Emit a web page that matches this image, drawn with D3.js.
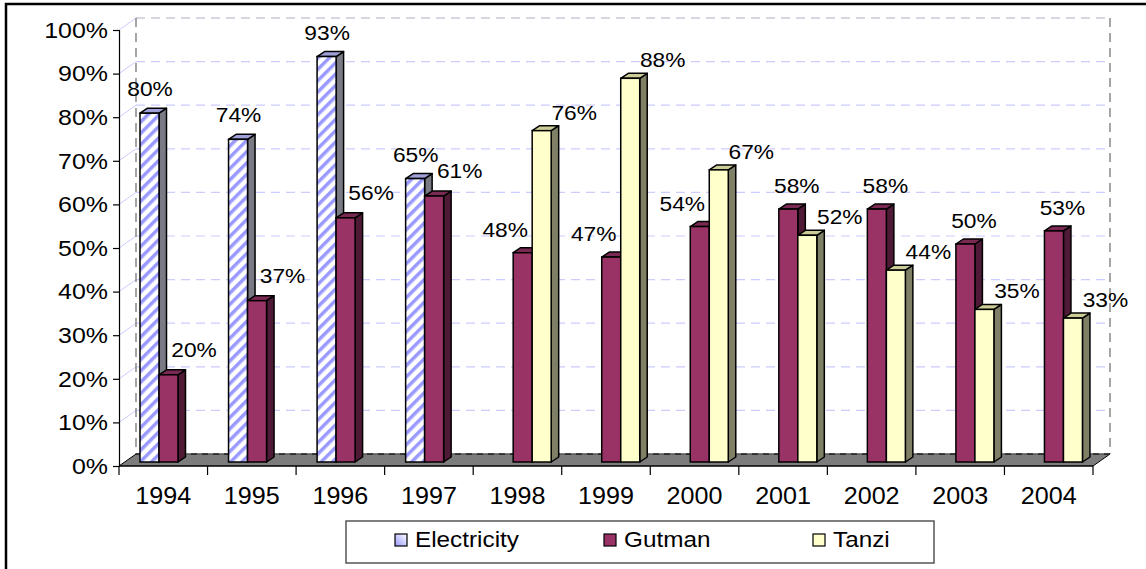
<!DOCTYPE html>
<html>
<head>
<meta charset="utf-8">
<script src="https://cdn.jsdelivr.net/npm/d3@7"></script>
<style>
  html, body { margin: 0; padding: 0; background: #fff; }
  svg { display: block; font-family: 'Liberation Sans', Arial, sans-serif; }
</style>
</head>
<body>
<svg id="chart" width="1146" height="569"></svg>
<script>
// ---- data ----
const years = ["1994","1995","1996","1997","1998","1999","2000","2001","2002","2003","2004"];
const seriesNames = ["Electricity","Gutman","Tanzi"];
const electricity = [0.80,0.74,0.93,0.65,null,null,null,null,null,null,null];
const gutman      = [0.20,0.37,0.56,0.61,0.48,0.47,0.54,0.58,0.58,0.50,0.53];
const tanzi       = [null,null,null,null,0.76,0.88,0.67,0.52,0.44,0.35,0.33];
const yTicks = [0,0.1,0.2,0.3,0.4,0.5,0.6,0.7,0.8,0.9,1.0];

const seriesValues = [electricity, gutman, tanzi];

// ---- layout ----
const svg = d3.select("#chart");
const SX = 1.11; // horizontal text stretch
const plotL = 119, plotR = 1093, plotB = 466, plotT = 30;
const depthX = 17, depthY = -12;       // wall depth
const barOX = 5, barOY = -4;           // bar plane offset
const barDX = 7.5, barDY = -5;         // bar depth

const x = d3.scaleBand().domain(years).range([plotL, plotR]).padding(0);
const xs = d3.scaleBand().domain(seriesNames).range([16, 73]).padding(0);
const y = d3.scaleLinear().domain([0, 1]).range([plotB, plotT]);

const colors = {
  Electricity: {front: "url(#stripes)", side: "#7a7a84", top: "#a0a0d8"},
  Gutman:      {front: "#993366", side: "#4f1a35", top: "#7a2a52"},
  Tanzi:       {front: "#ffffcc", side: "#808066", top: "#cccc99"}
};

// defs
const defs = svg.append("defs");
const pat = defs.append("pattern").attr("id", "stripes")
  .attr("patternUnits", "userSpaceOnUse").attr("width", 8).attr("height", 8)
  .attr("patternTransform", "rotate(45)");
pat.append("rect").attr("width", 8).attr("height", 8).attr("fill", "#ffffff");
pat.append("rect").attr("width", 3.5).attr("height", 8).attr("fill", "#9999ff");
const grad = defs.append("linearGradient").attr("id", "legendE")
  .attr("x1", "0").attr("y1", "1").attr("x2", "1").attr("y2", "0");
grad.append("stop").attr("offset", "0").attr("stop-color", "#9999ff");
grad.append("stop").attr("offset", "0.5").attr("stop-color", "#ccccff");
grad.append("stop").attr("offset", "1").attr("stop-color", "#ffffff");

// outer border
svg.append("rect").attr("x", 6).attr("y", 4).attr("width", 1160).attr("height", 600)
  .attr("fill", "none").attr("stroke", "#000").attr("stroke-width", 2.5);

// ---- walls & gridlines ----
const grid = svg.append("g");
const backL = plotL + depthX, backR = plotR + depthX;
yTicks.forEach(v => {
  if (v === 0) return;
  grid.append("line")
    .attr("x1", plotL).attr("y1", y(v)).attr("x2", backL).attr("y2", y(v) + depthY)
    .attr("stroke", "#ccccff").attr("stroke-width", 1);
  grid.append("line")
    .attr("x1", backL).attr("y1", y(v) + depthY).attr("x2", backR).attr("y2", y(v) + depthY)
    .attr("stroke", v === 1 ? "#b0b0c8" : "#ccccff").attr("stroke-width", 1.2)
    .attr("stroke-dasharray", "9,6");
});
// back wall edges
grid.append("line").attr("x1", backL).attr("y1", y(1) + depthY).attr("x2", backL).attr("y2", y(0) + depthY)
  .attr("stroke", "#808080").attr("stroke-width", 1.4).attr("stroke-dasharray", "9,6");
grid.append("line").attr("x1", backR).attr("y1", y(1) + depthY).attr("x2", backR).attr("y2", y(0) + depthY)
  .attr("stroke", "#808080").attr("stroke-width", 1.4).attr("stroke-dasharray", "9,6");

// floor
const floorPts = [[plotL, y(0)], [plotR, y(0)], [backR, y(0) + depthY], [backL, y(0) + depthY]];
svg.append("polygon").attr("points", floorPts.map(p => p.join(",")).join(" "))
  .attr("fill", "#7c7c7c").attr("stroke", "#000").attr("stroke-width", 1);
svg.append("line").attr("x1", backL).attr("y1", y(0) + depthY).attr("x2", backR).attr("y2", y(0) + depthY)
  .attr("stroke", "#808080").attr("stroke-width", 1.2);
svg.append("line").attr("x1", backL).attr("y1", y(0) + depthY).attr("x2", backR).attr("y2", y(0) + depthY)
  .attr("stroke", "#000").attr("stroke-width", 1).attr("stroke-dasharray", "6,5");

// ---- axes ----
const yAxis = svg.append("g").attr("transform", `translate(${plotL},0)`)
  .call(d3.axisLeft(y).tickValues(yTicks).tickFormat(d3.format(".0%")).tickSize(6).tickPadding(5));
yAxis.select(".domain").attr("stroke", "#000").attr("stroke-width", 1.2);
yAxis.selectAll(".tick line").attr("stroke", "#000").attr("stroke-width", 1.2);
yAxis.selectAll(".tick text").attr("font-size", 22.5).attr("fill", "#000")
  .attr("font-family", "'Liberation Sans', Arial, sans-serif")
  .attr("transform", `scale(${SX},1)`).attr("x", -11 / SX);

const xg = svg.append("g");
xg.append("line").attr("x1", plotL).attr("y1", y(0)).attr("x2", plotR).attr("y2", y(0))
  .attr("stroke", "#000").attr("stroke-width", 1.2);
const bounds = years.map(d => x(d)).concat([x(years[years.length - 1]) + x.bandwidth()]);
bounds.forEach(bx => {
  xg.append("line").attr("x1", bx).attr("x2", bx).attr("y1", y(0)).attr("y2", y(0) + 9)
    .attr("stroke", "#000").attr("stroke-width", 1.2);
});
years.forEach(d => {
  xg.append("text")
    .attr("transform", `translate(${x(d) + x.bandwidth() / 2},504) scale(${SX - 0.04},1)`)
    .attr("text-anchor", "middle").attr("font-size", 23.5).attr("fill", "#000").text(d);
});

// ---- bars ----
const barsG = svg.append("g");
const labelsG = svg.append("g");
const fmt = d3.format(".0%");
const bw = xs.bandwidth();

years.forEach((yr, i) => {
  seriesNames.forEach((s, k) => {
    const v = seriesValues[k][i];
    if (v == null) return;
    const c = colors[s];
    const x0 = x(yr) + xs(s) + barOX;
    const x1 = x0 + bw;
    const yb = y(0) + barOY;
    const yt = y(v) + barOY;
    const g = barsG.append("g");
    g.append("polygon")
      .attr("points", [[x1, yb], [x1 + barDX, yb + barDY], [x1 + barDX, yt + barDY], [x1, yt]].map(p => p.join(",")).join(" "))
      .attr("fill", c.side).attr("stroke", "#000").attr("stroke-width", 1.5).attr("stroke-linejoin", "round");
    g.append("polygon")
      .attr("points", [[x0, yt], [x1, yt], [x1 + barDX, yt + barDY], [x0 + barDX, yt + barDY]].map(p => p.join(",")).join(" "))
      .attr("fill", c.top).attr("stroke", "#000").attr("stroke-width", 1.5).attr("stroke-linejoin", "round");
    g.append("rect").attr("x", x0).attr("y", yt).attr("width", bw).attr("height", yb - yt)
      .attr("fill", c.front).attr("stroke", "#000").attr("stroke-width", 1.5);
  });
});

// ---- labels (placed around each bar top) ----
years.forEach((yr, i) => {
  const e = electricity[i], gm = gutman[i], tz = tanzi[i];
  seriesNames.forEach((s, k) => {
    const v = seriesValues[k][i];
    if (v == null) return;
    const x0 = x(yr) + xs(s) + barOX;
    const yt = y(v) + barOY;
    let dx, dy;
    if (s === "Electricity") { dx = 10; dy = -17; }
    else if (s === "Gutman") {
      if (e != null) { dx = 35; dy = -18; }
      else if (tz != null && tz > gm) { dx = -8; dy = -16; }
      else { dx = 18; dy = -16; }
    } else { dx = 42; dy = -11; }
    labelsG.append("text")
      .attr("transform", `translate(${x0 + dx},${yt + dy}) scale(${SX},1)`)
      .attr("text-anchor", "middle").attr("font-size", 20.5).attr("fill", "#000")
      .text(fmt(v));
  });
});

// ---- legend ----
const lg = svg.append("g");
lg.append("rect").attr("x", 346).attr("y", 521).attr("width", 588).attr("height", 42)
  .attr("fill", "#fff").attr("stroke", "#555").attr("stroke-width", 1.5);
const legendX = d3.scalePoint().domain(seriesNames).range([395, 813]);
seriesNames.forEach(s => {
  const lx = legendX(s);
  lg.append("rect").attr("x", lx).attr("y", 534).attr("width", 12).attr("height", 12)
    .attr("fill", s === "Electricity" ? "url(#legendE)" : colors[s].front)
    .attr("stroke", "#000").attr("stroke-width", 1.2);
  lg.append("text")
    .attr("transform", `translate(${lx + 20},547) scale(${SX + 0.02},1)`)
    .attr("font-size", 21.5).attr("fill", "#000").text(s);
});
</script>
</body>
</html>
